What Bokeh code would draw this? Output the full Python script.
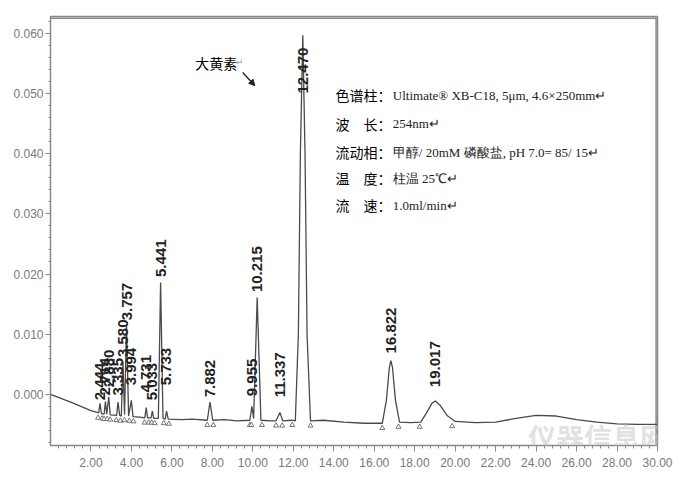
import numpy as np
from bokeh.plotting import figure
from bokeh.models import (FixedTicker, PrintfTickFormatter, Label, Arrow, NormalHead,
                          ColumnDataSource)
from bokeh.core.properties import value
from bokeh.embed import file_html
from bokeh.resources import INLINE

# ---- chromatogram trace (time in min, absorbance in AU) ----
trace_t = [0.0, 1.0, 2.0, 2.30, 2.38, 2.444, 2.52, 2.65, 2.714, 2.78, 2.880, 2.95,
           3.27, 3.335, 3.42, 3.50, 3.580, 3.66, 3.757, 3.86, 3.994, 4.08, 4.40,
           4.66, 4.731, 4.80, 4.97, 5.033, 5.10, 5.33, 5.441, 5.56, 5.67, 5.733, 5.82,
           6.5, 7.0, 7.75, 7.882, 8.02, 8.6, 9.2, 9.85, 9.955, 10.04, 10.215, 10.40,
           10.9, 11.15, 11.337, 11.48, 11.9, 12.10, 12.25, 12.35, 12.47, 12.58, 12.68,
           12.85, 13.5, 14.5, 15.5, 16.40, 16.60, 16.75, 16.822, 16.90, 17.05, 17.25,
           17.8, 18.3, 18.6, 18.85, 19.017, 19.25, 19.6, 20.0, 21.0, 22.0, 23.0, 24.0,
           25.0, 26.0, 27.0, 28.0, 29.0, 30.0]
trace_au = [0.0000, -0.0013, -0.0027, -0.0030, -0.0031, -0.0015, -0.0032, -0.0033, -0.0012, -0.0033, -0.0004, -0.0034,
            -0.0035, -0.0013, -0.0035, -0.0036, 0.0055, -0.0034, 0.0115, -0.0036, -0.0010, -0.0037, -0.0038,
            -0.0039, -0.0022, -0.0039, -0.0039, -0.0028, -0.0040, -0.0040, 0.0186, -0.0040, -0.0041, -0.0028, -0.0041,
            -0.0042, -0.0041, -0.0043, -0.0013, -0.0043, -0.0042, -0.0044, -0.0043, -0.0020, -0.0040, 0.0161, -0.0043,
            -0.0044, -0.0044, -0.0030, -0.0044, -0.0043, -0.0044, 0.0100, 0.0400, 0.0597, 0.0400, 0.0100,
            -0.0044, -0.0043, -0.0046, -0.0048, -0.0048, -0.0010, 0.0045, 0.0056, 0.0045, -0.0010, -0.0046,
            -0.0047, -0.0046, -0.0030, -0.0015, -0.0011, -0.0018, -0.0035, -0.0045, -0.0047, -0.0046, -0.0040, -0.0035,
            -0.0036, -0.0042, -0.0046, -0.0049, -0.0050, -0.0050]

# ---- peak retention-time labels ----
peak_t = [2.444, 2.714, 2.880, 3.335, 3.580, 3.757, 3.994, 4.731, 5.033, 5.441,
          5.733, 7.882, 9.955, 10.215, 11.337, 12.470, 16.822, 19.017]
peak_names = ["2.444", "2.714", "2.880", "3.335", "3.580", "3.757", "3.994", "4.731", "5.033", "5.441",
              "5.733", "7.882", "9.955", "10.215", "11.337", "12.470", "16.822", "19.017"]
peak_label_au = [-0.0010, -0.0002, 0.0012, -0.0002, 0.0062, 0.0123, 0.0015, 0.0003, -0.0010, 0.0195,
                 0.0015, -0.0005, -0.0003, 0.0170, -0.0005, 0.0500, 0.0068, 0.0012]

# ---- integration markers (peak start / end) ----
mark_t = [2.35, 2.55, 2.65, 2.80, 2.95, 3.25, 3.45, 3.65, 3.90, 4.10, 4.65, 4.85, 5.00, 5.15,
          5.60, 5.85, 7.75, 8.05, 9.85, 9.93, 10.45, 11.15, 11.45, 11.95, 12.85, 16.40, 17.20,
          18.25, 19.85]
mark_au = [-0.0039, -0.0040, -0.0041, -0.0041, -0.0042, -0.0043, -0.0044, -0.0043, -0.0044, -0.0045,
           -0.0047, -0.0047, -0.0047, -0.0048, -0.0048, -0.0049, -0.0051, -0.0051, -0.0051, -0.0051,
           -0.0051, -0.0052, -0.0052, -0.0051, -0.0052, -0.0056, -0.0054, -0.0054, -0.0053]

y_ticks = [0.000, 0.010, 0.020, 0.030, 0.040, 0.050, 0.060]
x_ticks = [2, 4, 6, 8, 10, 12, 14, 16, 18, 20, 22, 24, 26, 28, 30]

cond_keys = ["色谱柱：", "波　长：", "流动相：", "温　度：", "流　速："]
cond_vals = ["Ultimate® XB-C18, 5μm, 4.6×250mm↵", "254nm↵",
             "甲醇/ 20mM  磷酸盐, pH 7.0= 85/ 15↵", "柱温 25℃↵", "1.0ml/min↵"]

X0, X1, Y0, Y1 = 0, 30, -0.0085, 0.0628

p = figure(width=700, height=495, x_range=(X0, X1), y_range=(Y0, Y1),
           output_backend="svg", toolbar_location=None,
           min_border_left=50, min_border_right=43, min_border_top=16, min_border_bottom=50)
p.xgrid.visible = False
p.ygrid.visible = False
p.outline_line_color = "#888888"
p.outline_line_width = 1.5

# frame border on top and right, drawn a little inside the plotting frame
p.line([X0, X1 - 0.07, X1 - 0.07], [Y1 - 0.0003, Y1 - 0.0003, Y0],
       line_color="#8a8a8a", line_width=1.5)

xa = p.below[0]
ya = p.left[0]
for ax in (xa, ya):
    ax.axis_line_color = "#888888"
    ax.major_tick_line_color = "#888888"
    ax.minor_tick_line_color = "#888888"
    ax.major_label_text_color = "#7a7a7a"
    ax.major_label_text_font = "Liberation Sans"
    ax.major_label_text_font_size = "12px"
    ax.major_tick_in = 0
    ax.minor_tick_in = 0

ya.ticker = FixedTicker(ticks=y_ticks, minor_ticks=list(np.round(np.arange(-0.008, 0.0621, 0.002), 4)))
ya.formatter = PrintfTickFormatter(format="%.3f")
ya.major_tick_out = 5
ya.minor_tick_out = 2
ya.major_label_standoff = 2

xa.ticker = FixedTicker(ticks=x_ticks, minor_ticks=list(np.round(np.arange(0.4, 30.0, 0.4), 2)))
xa.formatter = PrintfTickFormatter(format="%.2f")
xa.major_tick_out = 6
xa.minor_tick_out = 3
xa.major_label_standoff = 6

# trace
p.line(trace_t, trace_au, line_color="#4a4a4a", line_width=1.3)

# integration markers
p.scatter(mark_t, mark_au, marker="triangle", size=5, fill_color="white",
          line_color="#555555", line_width=0.8)

# peak labels
src = ColumnDataSource(dict(x=peak_t, y=peak_label_au, t=peak_names))
p.text(x="x", y="y", text="t", source=src, angle=np.pi / 2,
       text_align="left", text_baseline="middle",
       text_font=value("Liberation Sans"), text_font_size="15px",
       text_font_style="bold", text_color="#222222")

# y-axis title
p.add_layout(Label(x=-1.95, y=0.0268, text="AU", angle=np.pi / 2,
                   text_align="center", text_baseline="middle",
                   text_font="Liberation Sans", text_font_size="12px", text_color="#666666"))

# 大黄素 annotation with arrow
p.add_layout(Label(x=7.15, y=0.0551, text="大黄素", text_baseline="middle",
                   text_font="Noto Sans CJK SC", text_font_size="14px", text_color="#000000"))
p.add_layout(Label(x=9.15, y=0.0553, text="↵", text_baseline="middle",
                   text_font="DejaVu Sans", text_font_size="9px", text_color="#999999"))
p.add_layout(Arrow(end=NormalHead(size=6, fill_color="#222222", line_color="#222222"),
                   x_start=9.50, y_start=0.0535, x_end=10.10, y_end=0.0513,
                   line_color="#222222", line_width=1.3))

# chromatographic conditions
line_y = [0.0497, 0.0450, 0.0402, 0.0359, 0.0314]
for k, v, yy in zip(cond_keys, cond_vals, line_y):
    p.add_layout(Label(x=14.08, y=yy, text=k, text_baseline="middle",
                       text_font="Noto Sans CJK SC", text_font_size="14px", text_color="#000000"))
    p.add_layout(Label(x=16.92, y=yy, text=v, text_baseline="middle",
                       text_font="Liberation Serif", text_font_size="13px", text_color="#222222"))

# watermark
p.add_layout(Label(x=23.6, y=-0.0071, text="仪器信息网", text_baseline="middle",
                   text_font="Noto Sans CJK SC", text_font_size="28px", text_font_style="bold",
                   text_color="#c8c8c8", text_alpha=0.55))
p.add_layout(Label(x=30.9, y=-0.0143, text="↵", text_baseline="middle",
                   text_font="DejaVu Sans", text_font_size="11px", text_color="#888888"))

open("out.html", "w").write(file_html(p, INLINE))
